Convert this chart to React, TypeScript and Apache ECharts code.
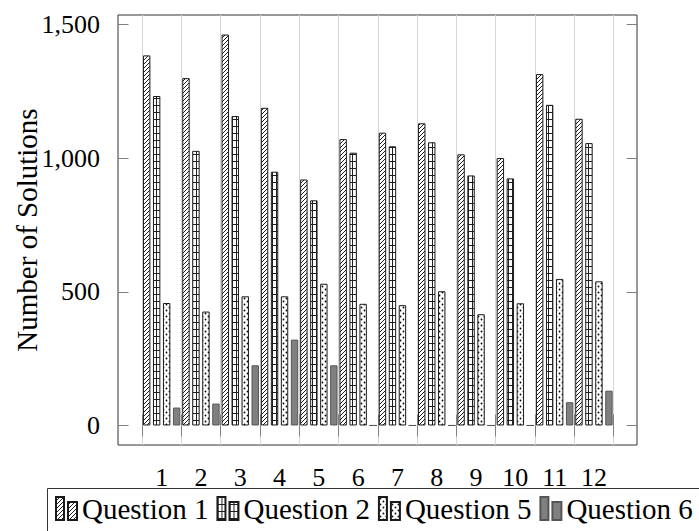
import React, { useEffect, useRef } from 'react';
import * as echarts from 'echarts';

const categories = ['1', '2', '3', '4', '5', '6', '7', '8', '9', '10', '11', '12'];
const question1 = [1384, 1299, 1462, 1188, 920, 1071, 1095, 1130, 1014, 1000, 1314, 1147];
const question2 = [1232, 1027, 1157, 949, 842, 1020, 1044, 1059, 935, 924, 1199, 1056];
const question5 = [458, 426, 483, 483, 530, 455, 450, 502, 416, 457, 548, 539];
const question6 = [67, 82, 225, 321, 225, 0, 0, 0, 0, 0, 87, 130];
const yTicks = [0, 500, 1000, 1500];
const seriesNames = ['Question 1', 'Question 2', 'Question 5', 'Question 6'];

const FONT = '"Liberation Serif", "Times New Roman", serif';

function makeTile(kind: string): HTMLCanvasElement {
  const c = document.createElement('canvas');
  const ink = '#1f1f1f';
  if (kind === 'lines') {
    c.width = 4; c.height = 4;
    const g = c.getContext('2d')!;
    g.fillStyle = '#ffffff'; g.fillRect(0, 0, 4, 4);
    g.fillStyle = ink;
    for (let i = 0; i < 4; i++) g.fillRect(i, 3 - i, 1, 1);
  } else if (kind === 'grid') {
    c.width = 4; c.height = 7;
    const g = c.getContext('2d')!;
    g.fillStyle = '#ffffff'; g.fillRect(0, 0, 4, 7);
    g.fillStyle = ink;
    g.fillRect(0, 0, 4, 1);
    g.fillRect(0, 0, 1, 7);
  } else {
    c.width = 6; c.height = 6;
    const g = c.getContext('2d')!;
    g.fillStyle = '#ffffff'; g.fillRect(0, 0, 6, 6);
    g.fillStyle = '#000000';
    g.beginPath(); g.arc(1.5, 1.5, 0.9, 0, Math.PI * 2); g.fill();
    g.beginPath(); g.arc(4.5, 4.5, 0.9, 0, Math.PI * 2); g.fill();
  }
  return c;
}

export default function App() {
  const ref = useRef<HTMLDivElement>(null);
  useEffect(() => {
    const chart = echarts.init(ref.current!, null, { renderer: 'svg' });
    const datas = [question1, question2, question5, question6];
    const fills: any[] = [
      { image: makeTile('lines'), repeat: 'repeat' },
      { image: makeTile('grid'), repeat: 'repeat' },
      { image: makeTile('dots'), repeat: 'repeat' },
      '#808080',
    ];
    const borders = ['#1a1a1a', '#1a1a1a', '#1a1a1a', '#555555'];
    const series = seriesNames.map((name, i) => ({
      type: 'bar',
      name,
      data: datas[i],
      xAxisIndex: 0,
      yAxisIndex: 0,
      barWidth: 7.4,
      barGap: '35%',
      itemStyle: {
        color: fills[i],
        borderColor: borders[i],
        borderWidth: 1,
      },
      emphasis: { disabled: true },
    }));
    const tickStyle = { color: '#808080', width: 1 };
    chart.setOption({
      animation: false,
      backgroundColor: '#ffffff',
      textStyle: { fontFamily: FONT },
      grid: [
        { left: 142, top: 15, width: 471.6, height: 430, outerBoundsMode: 'none' },
        {
          left: 118, top: 15, width: 519, height: 430, show: true,
          borderColor: '#333333', borderWidth: 1, backgroundColor: 'transparent',
          outerBoundsMode: 'none',
        },
      ],
      xAxis: [
        {
          gridIndex: 0, type: 'category', data: categories, position: 'bottom',
          axisLine: { show: false },
          axisTick: { show: true, length: 11, inside: false, lineStyle: tickStyle },
          axisLabel: {
            fontSize: 26, lineHeight: 21, fontFamily: FONT, color: '#000000', margin: 22, interval: 0,
          },
          splitLine: { show: true, lineStyle: { color: '#d6d6d6', width: 1 } },
        },
        {
          gridIndex: 0, type: 'category', data: categories, position: 'top',
          axisLine: { show: false },
          axisTick: { show: true, length: 11, inside: false, lineStyle: tickStyle },
          axisLabel: { show: false },
          splitLine: { show: false },
        },
        { gridIndex: 1, type: 'value', show: false },
      ],
      yAxis: [
        {
          gridIndex: 0, type: 'value', min: -73, max: 1535, position: 'left', offset: 24,
          axisLine: { show: false },
          axisTick: { show: true, customValues: yTicks, inside: true, length: 10.5, lineStyle: tickStyle },
          axisLabel: {
            customValues: yTicks, margin: 18, fontSize: 26, fontFamily: FONT, color: '#000000',
            formatter: (v: number) => v.toLocaleString('en-US'),
          },
          splitLine: { show: false },
          name: 'Number of Solutions',
          nameLocation: 'middle',
          nameGap: 77,
          nameMoveOverlap: false,
          nameTextStyle: { fontSize: 29, fontFamily: FONT, color: '#000000' },
        },
        {
          gridIndex: 0, type: 'value', min: -73, max: 1535, position: 'right', offset: 23.6,
          axisLine: { show: false },
          axisTick: { show: true, customValues: yTicks, inside: true, length: 10.5, lineStyle: tickStyle },
          axisLabel: { show: false },
          splitLine: { show: false },
        },
        { gridIndex: 1, type: 'value', show: false },
      ],
      legend: {
        left: 55, top: 494, orient: 'horizontal', itemGap: 8, itemWidth: 21, itemHeight: 23,
        padding: 0, width: 680,
        icon: 'path://M0,0L8,0L8,23L0,23Z M12,5L21,5L21,23L12,23Z',
        textStyle: { fontSize: 29, lineHeight: 27, fontFamily: FONT, color: '#000000' },
        data: seriesNames,
        selectedMode: false,
      },
      graphic: [
        {
          type: 'rect',
          shape: { x: 47.5, y: 488.5, width: 700, height: 100 },
          style: { fill: 'none', stroke: '#333333', lineWidth: 1 },
          silent: true,
        },
      ],
      series,
    });
    return () => chart.dispose();
  }, []);
  return (
    <div
      ref={ref}
      style={{ position: 'absolute', left: 0, top: 0, width: 699, height: 531 }}
    />
  );
}
